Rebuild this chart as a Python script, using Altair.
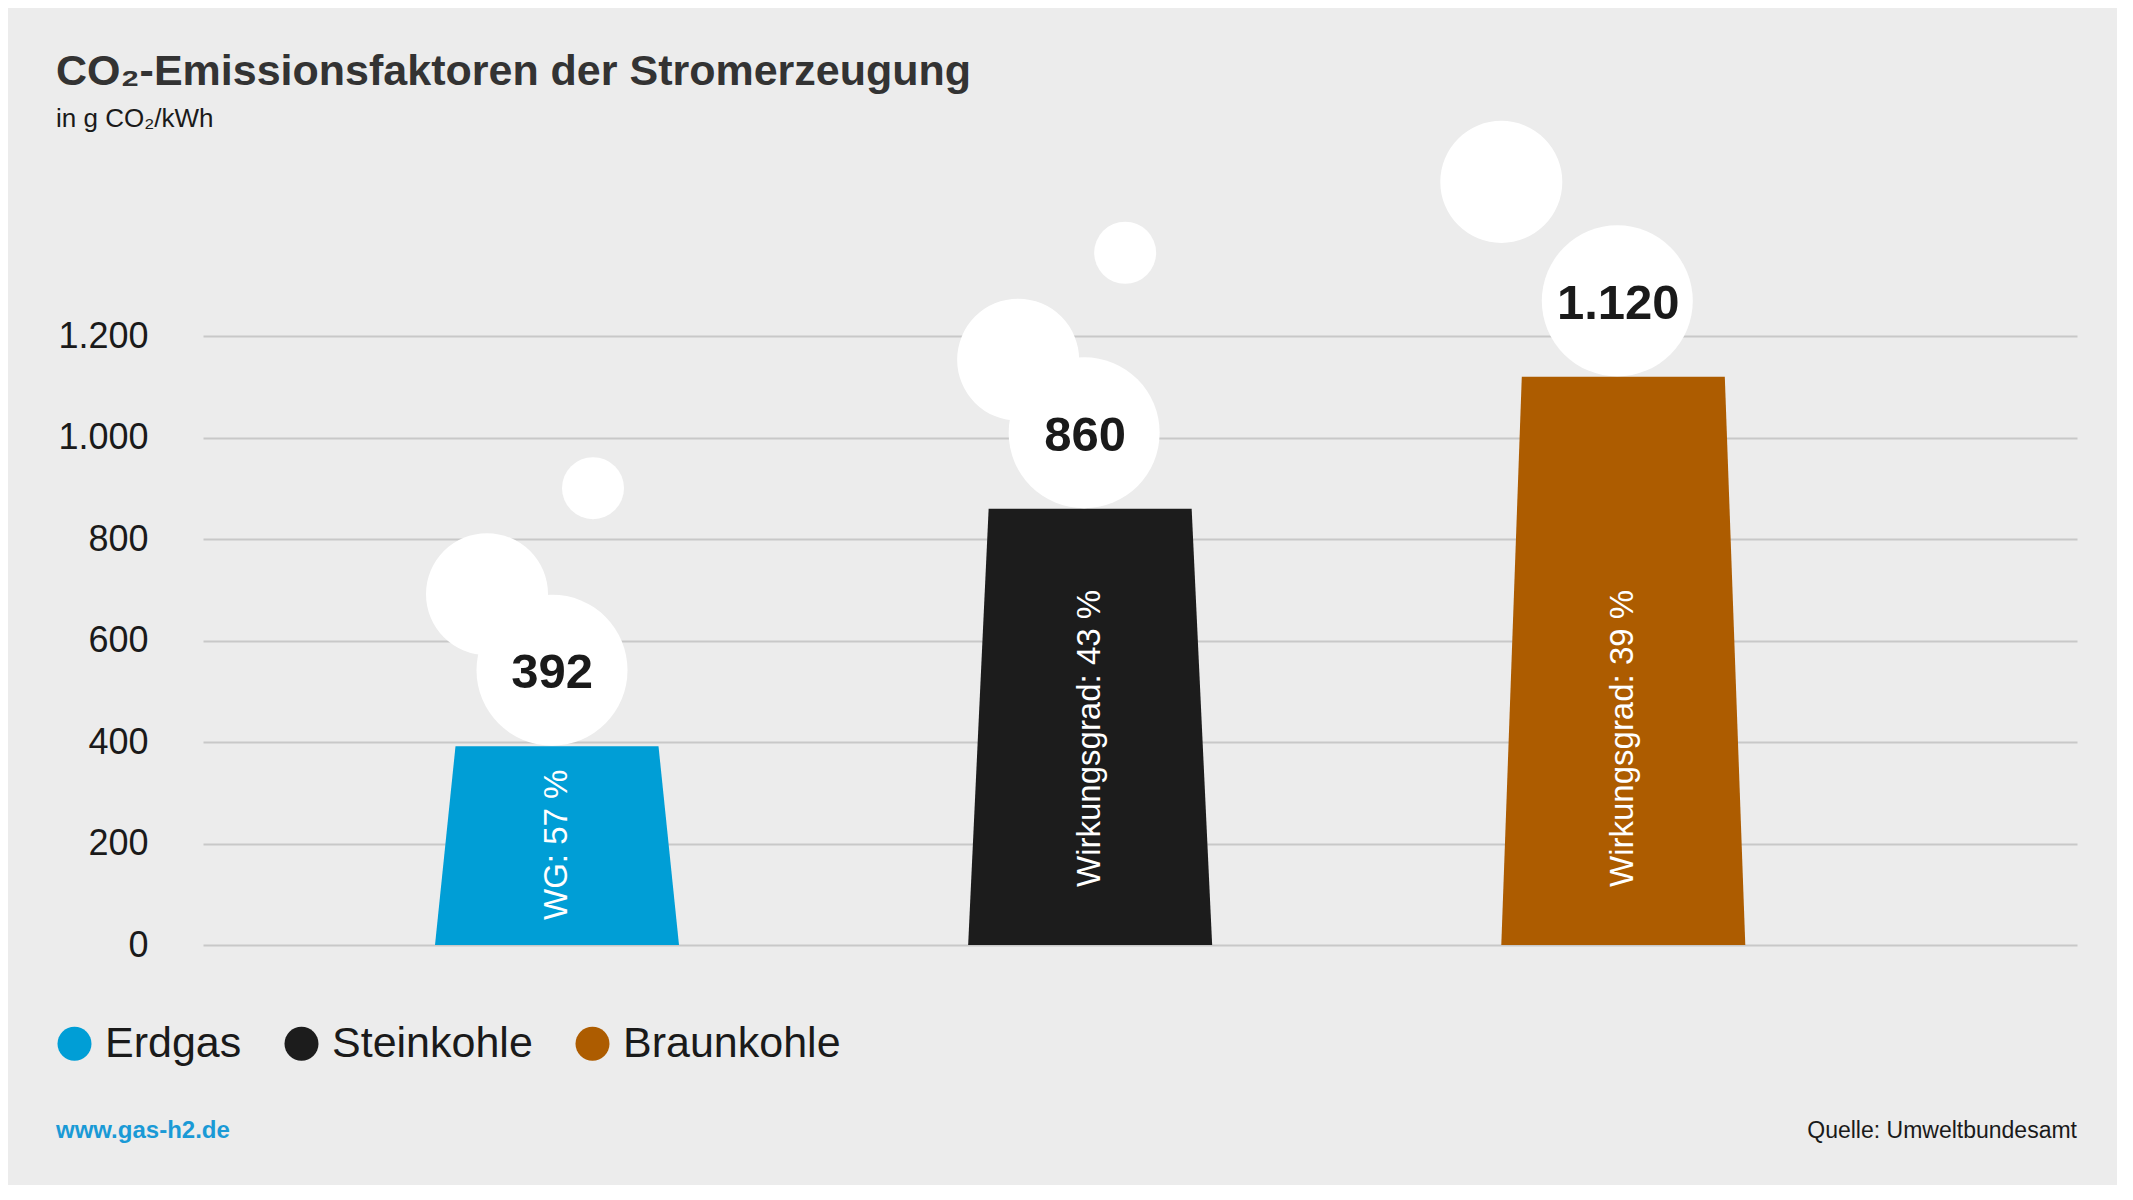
import altair as alt
import pandas as pd

# ---------------- data ----------------
categories = ["Erdgas", "Steinkohle", "Braunkohle"]
values = [392, 860, 1120]
efficiency_labels = ["WG: 57 %", "Wirkungsgrad: 43 %", "Wirkungsgrad: 39 %"]
colors = ["#009ed6", "#1c1c1c", "#ad5c00"]
y_ticks = [0, 200, 400, 600, 800, 1000, 1200]

title_text = "CO₂-Emissionsfaktoren der Stromerzeugung"
subtitle_text = "in g CO₂/kWh"
url_text = "www.gas-h2.de"
source_text = "Quelle: Umweltbundesamt"

# ---------------- layout ----------------
W, H = 1874, 837
Y_MAX = 1650
PX = H / Y_MAX                      # pixels per data unit
X_DOM = [-0.664, 2.851]             # bar index units
UNIT = W / (X_DOM[1] - X_DOM[0])    # pixels per bar index unit
TOP_HALF = 101.5 / UNIT
BOTTOM_HALF = 122 / UNIT
FONT = "Liberation Sans"

# label start (px above baseline) for the rotated text in each bar
label_start_px = [25, 58, 58]
# smoke bubbles: bar index, dx px, dy px above bar top, radius px
bubble_bar = [0, 0, 0, 1, 1, 1, 2, 2]
bubble_dx = [-5, -70, 36, -6, -72, 35, -6, -122]
bubble_dy = [76, 152, 258, 76, 149, 256, 76, 195]
bubble_r = [75.5, 61, 31, 75.5, 61, 31, 75.5, 61]

# ---------------- tables ----------------
area_rows = []
for i, (c, v) in enumerate(zip(categories, values)):
    area_rows.append({"cat": c, "y": 0, "xl": i - BOTTOM_HALF, "xr": i + BOTTOM_HALF})
    area_rows.append({"cat": c, "y": v, "xl": i - TOP_HALF, "xr": i + TOP_HALF})
area_df = pd.DataFrame(area_rows)

bub_df = pd.DataFrame({
    "x": [b + dx / UNIT for b, dx in zip(bubble_bar, bubble_dx)],
    "y": [values[b] + dy / PX for b, dy in zip(bubble_bar, bubble_dy)],
    "s": [(2 * r) ** 2 for r in bubble_r],
})

val_df = pd.DataFrame({
    "x": [i - 5 / UNIT for i in range(3)],
    "y": [v + 76 / PX for v in values],
    "t": [f"{v:,}".replace(",", ".") for v in values],
})

lab_df = pd.DataFrame({
    "x": list(range(3)),
    "y": [p / PX for p in label_start_px],
    "t": efficiency_labels,
})

xs = alt.Scale(domain=X_DOM, nice=False, zero=False)
ys = alt.Scale(domain=[0, Y_MAX], nice=False)

bars = alt.Chart(area_df).mark_area(orient="horizontal", opacity=1).encode(
    y=alt.Y("y:Q", scale=ys, axis=alt.Axis(
        values=y_ticks, title=None, domain=False, ticks=False,
        labelPadding=55, labelFontSize=36, labelFont=FONT, labelColor="#1a1a1a",
        labelExpr="replace(format(datum.value, ','), ',', '.')",
        gridColor="#c8c8c8", gridWidth=2)),
    x=alt.X("xl:Q", scale=xs, axis=None),
    x2="xr:Q",
    color=alt.Color("cat:N", scale=alt.Scale(domain=categories, range=colors),
                    sort=categories,
                    legend=alt.Legend(
                        orient="none", legendX=-150, legendY=914,
                        direction="horizontal", columns=3, title=None,
                        symbolType="circle", symbolSize=1156, symbolStrokeWidth=0,
                        symbolOpacity=1, labelLimit=600,
                        labelFontSize=43, labelFont=FONT, labelColor="#1a1a1a",
                        labelOffset=9, columnPadding=38, padding=0)),
    detail="cat:N",
)

bubbles = alt.Chart(bub_df).mark_circle(color="white", opacity=1).encode(
    x=alt.X("x:Q", scale=xs),
    y=alt.Y("y:Q", scale=ys),
    size=alt.Size("s:Q", scale=None),
)

value_text = alt.Chart(val_df).mark_text(
    font=FONT, fontSize=49, fontWeight="bold", color="#1a1a1a", dy=3
).encode(x=alt.X("x:Q", scale=xs), y=alt.Y("y:Q", scale=ys), text="t:N")

bar_text = alt.Chart(lab_df).mark_text(
    font=FONT, fontSize=33, color="white", angle=270, align="left", baseline="middle"
).encode(x=alt.X("x:Q", scale=xs), y=alt.Y("y:Q", scale=ys), text="t:N")

url = alt.Chart(pd.DataFrame({"t": [url_text]})).mark_text(
    font=FONT, fontSize=24, fontWeight="bold", color="#1a9ad6", align="left",
    baseline="alphabetic"
).encode(x=alt.value(-147), y=alt.value(1030), text="t:N")

source = alt.Chart(pd.DataFrame({"t": [source_text]})).mark_text(
    font=FONT, fontSize=23, color="#1a1a1a", align="right", baseline="alphabetic"
).encode(x=alt.value(W), y=alt.value(1030), text="t:N")

chart = alt.layer(bars, bubbles, value_text, bar_text, url, source).properties(
    width=W, height=H,
    padding={"left": 195, "top": 100, "right": 40, "bottom": 240},
    autosize=alt.AutoSizeParams(type="none"),
    background="#ececec",
    title=alt.Title(
        text=title_text, subtitle=subtitle_text, anchor="start", frame="group",
        dx=-147, dy=24, offset=0,
        font=FONT, fontSize=43, fontWeight="bold", color="#333333",
        subtitleFont=FONT, subtitleFontSize=26, subtitleColor="#1a1a1a",
        subtitlePadding=12),
).configure_view(strokeWidth=0)

chart.save("out.html", embed_options={"renderer": "svg", "actions": False})
